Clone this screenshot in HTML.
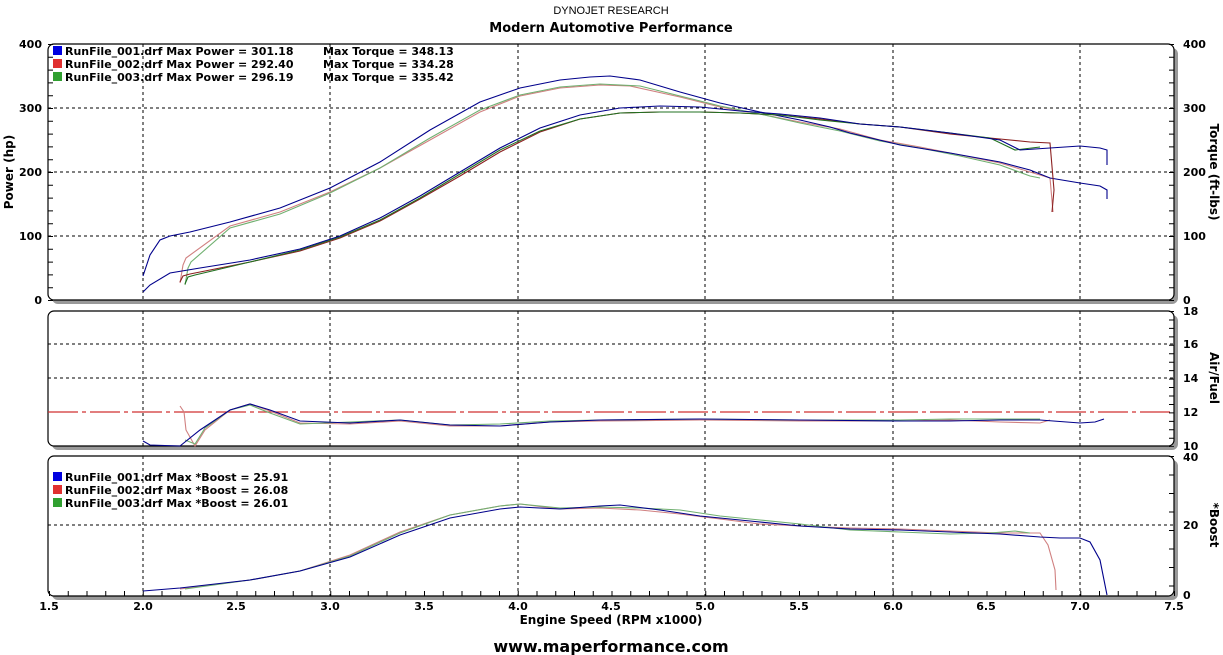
<!DOCTYPE html>
<html><head><meta charset="utf-8"><style>
body{margin:0;background:#fff}
svg{display:block;font-family:"DejaVu Sans","Liberation Sans",sans-serif;font-weight:bold}
</style></head><body>
<svg width="1223" height="655" viewBox="0 0 1223 655" xmlns="http://www.w3.org/2000/svg">
<text x="611" y="14" font-size="11" text-anchor="middle" font-weight="normal" font-family="Liberation Sans,sans-serif">DYNOJET RESEARCH</text>
<text x="611" y="32" font-size="13" text-anchor="middle">Modern Automotive Performance</text>
<g fill="#999">
<rect x="52" y="48" width="1126" height="256" rx="6"/>
<rect x="52" y="315" width="1126" height="135" rx="6"/>
<rect x="52" y="460" width="1126" height="140" rx="6"/>
</g>
<g fill="#fff" stroke="#000" stroke-width="1.2">
<rect x="48" y="44" width="1126" height="256" rx="6"/>
<rect x="48" y="311" width="1126" height="135" rx="6"/>
<rect x="48" y="456" width="1126" height="140" rx="6"/>
</g>
<g stroke="#000" stroke-width="1" stroke-dasharray="3,3" fill="none">
<path d="M143 44V300M330 44V300M518 44V300M705 44V300M893 44V300M1080 44V300"/>
<path d="M48 108H1174M48 172H1174M48 236H1174"/>
<path d="M143 311V446M330 311V446M518 311V446M705 311V446M893 311V446M1080 311V446"/>
<path d="M48 344H1174M48 378H1174"/>
<path d="M143 456V596M330 456V596M518 456V596M705 456V596M893 456V596M1080 456V596"/>
<path d="M48 525H1174"/>
</g>
<path d="M48 412H1174" stroke="#d03030" stroke-width="1.2" stroke-dasharray="30,4,4,4"/>
<!-- minor ticks -->
<g stroke="#000" stroke-width="5" fill="none">
<path d="M50.5 44V301" stroke-dasharray="1,11.8"/>
<path d="M1171.5 44V301" stroke-dasharray="1,11.8"/>
<path d="M1171.5 311V447" stroke-dasharray="1,7.45"/>
<path d="M1171.5 456V597" stroke-dasharray="1,17.5"/>
<path d="M49 593.5H1175" stroke-dasharray="1,17.75"/>
</g>
<g font-size="11" text-anchor="end">
<text x="42" y="48">400</text><text x="42" y="112">300</text><text x="42" y="176">200</text><text x="42" y="240">100</text><text x="42" y="304">0</text>
</g>
<g font-size="11">
<text x="1183" y="48">400</text><text x="1183" y="112">300</text><text x="1183" y="176">200</text><text x="1183" y="240">100</text><text x="1183" y="304">0</text>
<text x="1183" y="315">18</text><text x="1183" y="348">16</text><text x="1183" y="382">14</text><text x="1183" y="416">12</text><text x="1183" y="450">10</text>
<text x="1183" y="461">40</text><text x="1183" y="529">20</text><text x="1183" y="599">0</text>
</g>
<g font-size="11" text-anchor="middle">
<text x="49" y="610">1.5</text><text x="143" y="610">2.0</text><text x="236" y="610">2.5</text><text x="330" y="610">3.0</text><text x="424" y="610">3.5</text><text x="518" y="610">4.0</text><text x="611" y="610">4.5</text><text x="705" y="610">5.0</text><text x="799" y="610">5.5</text><text x="893" y="610">6.0</text><text x="986" y="610">6.5</text><text x="1080" y="610">7.0</text><text x="1174" y="610">7.5</text>
<text x="611" y="624" font-size="12">Engine Speed (RPM x1000)</text>
<text x="611" y="652" font-size="16">www.maperformance.com</text>
</g>
<text transform="translate(13,172) rotate(-90)" font-size="12" text-anchor="middle">Power (hp)</text>
<text transform="translate(1210,172) rotate(90)" font-size="12" text-anchor="middle">Torque (ft-lbs)</text>
<text transform="translate(1210,378) rotate(90)" font-size="12" text-anchor="middle">Air/Fuel</text>
<text transform="translate(1210,525) rotate(90)" font-size="12" text-anchor="middle">*Boost</text>
<g font-size="11">
<rect x="53" y="46" width="9" height="9" fill="#0000e0"/><rect x="53" y="59" width="9" height="9" fill="#e03030"/><rect x="53" y="72" width="9" height="9" fill="#30a030"/>
<text x="65" y="55">RunFile_001.drf Max Power = 301.18</text><text x="323" y="55">Max Torque = 348.13</text>
<text x="65" y="68">RunFile_002.drf Max Power = 292.40</text><text x="323" y="68">Max Torque = 334.28</text>
<text x="65" y="81">RunFile_003.drf Max Power = 296.19</text><text x="323" y="81">Max Torque = 335.42</text>
<rect x="53" y="472" width="9" height="9" fill="#0000e0"/><rect x="53" y="485" width="9" height="9" fill="#e03030"/><rect x="53" y="498" width="9" height="9" fill="#30a030"/>
<text x="65" y="481">RunFile_001.drf Max *Boost = 25.91</text>
<text x="65" y="494">RunFile_002.drf Max *Boost = 26.08</text>
<text x="65" y="507">RunFile_003.drf Max *Boost = 26.01</text>
</g>
<g fill="none" stroke-width="1.1">
<polyline stroke="#d08080" points="180,283 183,265 186,258 230,226 280,212 330,192 380,168 430,140 480,112 520,96 560,88 600,85 630,86 680,97 720,107 760,114 800,122 840,129 880,140 920,147 960,155 1000,163 1030,172 1050,178 1053,212"/>
<polyline stroke="#70b070" points="185,285 188,268 191,262 230,228 280,214 330,193 380,168 430,138 480,110 520,95 560,87 600,84 640,86 680,96 720,106 760,114 800,123 840,131 880,141 920,148 960,156 1000,165 1030,176 1040,178"/>
<polyline stroke="#00008b" points="143,276 150,255 160,240 170,236 190,232 230,222 280,208 330,188 380,162 430,130 480,102 520,88 560,80 590,77 610,76 640,80 680,92 720,103 760,112 800,120 830,127 850,133 900,145 950,153 1000,162 1030,170 1050,178 1080,183 1100,186 1107,190 1107,199"/>
<polyline stroke="#8b2020" points="180,282 183,276 190,274 250,262 300,251 340,238 380,221 420,199 460,176 500,152 540,132 580,119 620,113 660,112 700,112 740,113 780,115 820,119 860,124 900,127 950,134 1000,139 1030,142 1050,143 1054,190 1052,212"/>
<polyline stroke="#207020" points="185,284 188,277 195,275 250,262 300,250 340,237 380,220 420,198 460,174 500,150 540,131 580,119 620,113 660,112 700,112 740,113 780,115 820,120 860,124 900,127 950,133 990,138 1015,150 1040,147"/>
<polyline stroke="#00008b" points="143,292 150,285 170,273 200,268 250,260 300,249 340,236 380,218 420,196 460,172 500,148 540,128 580,115 620,108 660,106 700,107 740,111 780,114 820,118 860,124 900,127 950,133 1000,140 1020,150 1050,148 1080,146 1100,148 1107,150 1107,165"/>
<polyline stroke="#d08080" points="180,406 184,412 186,430 195,446 205,430 230,410 250,404 270,411 300,423 350,424 400,421 450,426 500,426 550,422 600,421 700,420 800,421 900,421 950,420 1000,422 1040,423 1050,420"/>
<polyline stroke="#70b070" points="185,440 195,444 205,428 230,410 250,405 270,413 300,424 350,422 400,420 450,425 500,424 550,421 600,420 700,419 800,420 900,420 950,419 1000,419 1040,419"/>
<polyline stroke="#00008b" points="143,441 150,445 180,446 200,430 230,410 250,404 270,410 300,421 350,423 400,420 450,425 500,426 550,422 600,420 700,419 800,420 900,421 950,421 1000,420 1040,420 1080,423 1095,422 1104,419"/>
<polyline stroke="#d08080" points="180,589 250,580 300,571 350,555 400,532 450,515 500,506 520,504 560,509 600,508 640,510 680,514 720,519 760,524 800,526 850,528 900,529 950,531 1000,533 1040,533 1048,545 1055,570 1056,590"/>
<polyline stroke="#70b070" points="185,589 250,580 300,571 350,556 400,533 450,515 500,506 520,504 560,508 600,507 640,508 680,510 720,516 760,520 800,524 850,530 900,532 950,534 990,533 1015,531 1030,533"/>
<polyline stroke="#00008b" points="143,591 180,588 250,580 300,571 350,557 400,535 450,518 500,509 520,507 560,509 600,506 620,505 660,510 700,516 750,521 800,526 850,529 900,530 950,532 1000,534 1040,537 1060,538 1080,538 1090,542 1100,560 1107,595"/>
</g>
</svg>
</body></html>
